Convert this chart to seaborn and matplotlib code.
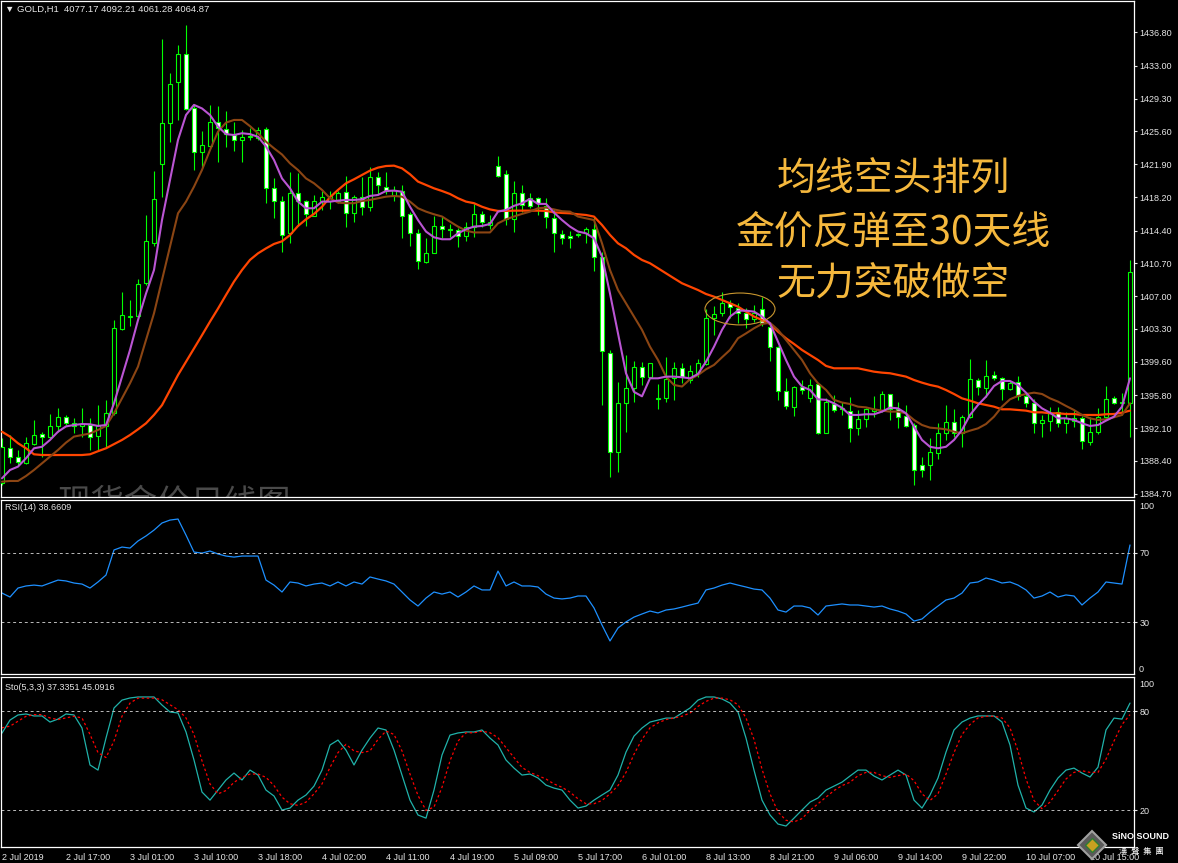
import numpy as np
import matplotlib
matplotlib.use('Agg')
import matplotlib.pyplot as plt
from matplotlib.patches import Ellipse
import seaborn as sns

# ---- candles (GOLD H1) ----
opens = [1385.9, 1389.83, 1388.8, 1388.2, 1390.3, 1391.4, 1391.07, 1392.3, 1393.33, 1392.7,
         1392.35, 1392.5, 1391.2, 1392.3, 1393.8, 1403.3, 1404.7, 1404.8, 1408.5, 1413.05,
         1421.9, 1426.6, 1431.15, 1434.4, 1428.2, 1423.25, 1423.97, 1426.7, 1425.9, 1425.2,
         1424.6, 1425.0, 1424.83, 1425.85, 1419.2, 1417.7, 1414.1, 1418.7, 1417.7, 1416.1,
         1417.75, 1417.75, 1417.75, 1418.8, 1416.4, 1418.24, 1417.1, 1420.5, 1419.37, 1418.3,
         1418.92, 1416.25, 1414.1, 1410.9, 1411.92, 1414.97, 1414.56, 1414.48, 1413.8, 1414.78,
         1416.25, 1415.04, 1421.7, 1420.77, 1415.7, 1418.6, 1418.13, 1418.13, 1417.2, 1415.8,
         1414.0, 1413.8, 1413.88, 1414.1, 1414.56, 1411.47, 1400.63, 1389.45, 1394.9, 1396.6,
         1399.05, 1397.92, 1395.45, 1395.47, 1397.73, 1398.86, 1397.54, 1398.3, 1399.35, 1404.5,
         1405.07, 1406.28, 1405.7, 1405.07, 1404.4, 1405.52, 1403.5, 1401.3, 1396.34, 1394.53,
         1396.72, 1395.47, 1397.05, 1391.6, 1394.83, 1394.35, 1394.08, 1392.16, 1393.1, 1394.08,
         1394.15, 1395.92, 1394.23, 1393.48, 1392.46, 1387.95, 1387.95, 1389.34, 1391.52, 1392.84,
         1391.6, 1393.4, 1397.54, 1396.6, 1398.1, 1397.73, 1396.49, 1397.35, 1395.74, 1394.98,
         1392.65, 1392.95, 1393.97, 1392.72, 1392.95, 1393.21, 1390.58, 1391.71, 1393.33, 1395.47,
         1394.98, 1394.98]
highs = [1391.0, 1391.33, 1389.6, 1391.1, 1393.0, 1391.7, 1393.67, 1394.35, 1393.6, 1393.3,
         1394.35, 1393.2, 1394.7, 1395.3, 1404.3, 1407.5, 1406.6, 1408.9, 1416.2, 1421.1,
         1436.05, 1432.2, 1435.4, 1437.6, 1428.6, 1425.6, 1428.6, 1428.5, 1427.95, 1426.7,
         1425.8, 1425.96, 1426.07, 1426.07, 1420.3, 1418.3, 1421.07, 1420.9, 1417.87, 1418.4,
         1418.9, 1418.9, 1418.9, 1420.6, 1418.43, 1420.43, 1421.56, 1421.07, 1421.07, 1419.45,
         1419.56, 1416.55, 1414.56, 1413.54, 1416.0, 1416.0, 1415.16, 1414.67, 1415.35, 1417.4,
         1416.66, 1416.17, 1422.84, 1421.26, 1420.0, 1419.56, 1418.6, 1418.24, 1418.06, 1416.8,
         1414.48, 1414.4, 1414.1, 1414.86, 1416.0, 1412.03, 1400.93, 1397.35, 1400.37, 1399.73,
         1399.54, 1399.5, 1397.05, 1400.1, 1399.6, 1399.5, 1399.24, 1399.88, 1405.5, 1405.9,
         1407.44, 1406.58, 1406.2, 1405.64, 1406.0, 1406.88, 1403.87, 1401.38, 1397.73, 1396.87,
         1397.54, 1397.6, 1397.17, 1395.47, 1395.85, 1395.0, 1395.66, 1394.15, 1394.34, 1395.74,
         1396.3, 1396.0, 1395.1, 1394.72, 1392.65, 1388.81, 1390.96, 1392.72, 1394.72, 1394.23,
         1393.59, 1399.88, 1397.73, 1399.8, 1398.5, 1397.92, 1397.47, 1397.99, 1396.1, 1395.36,
         1393.59, 1394.53, 1394.45, 1393.97, 1394.15, 1393.48, 1393.4, 1394.34, 1396.86, 1395.74,
         1396.04, 1411.09]
lows = [1385.7, 1388.13, 1387.95, 1388.1, 1390.2, 1388.9, 1390.96, 1391.7, 1392.5, 1391.5,
        1391.15, 1389.6, 1389.6, 1389.9, 1393.6, 1403.2, 1403.6, 1404.5, 1408.3, 1412.7,
        1418.25, 1424.45, 1426.9, 1428.0, 1421.2, 1421.6, 1423.7, 1422.2, 1423.9, 1423.4,
        1422.2, 1424.6, 1424.64, 1417.5, 1415.8, 1412.0, 1413.05, 1414.9, 1414.9, 1416.0,
        1416.74, 1416.9, 1417.57, 1414.86, 1415.4, 1416.2, 1416.66, 1418.55, 1418.55, 1417.7,
        1413.6, 1412.67, 1410.04, 1410.8, 1411.85, 1413.54, 1413.65, 1412.6, 1413.28, 1413.73,
        1414.86, 1414.56, 1420.43, 1415.04, 1414.3, 1416.55, 1416.93, 1416.2, 1414.74, 1412.03,
        1412.9, 1412.4, 1413.73, 1413.05, 1409.8, 1394.7, 1386.55, 1387.2, 1391.7, 1395.1,
        1397.0, 1397.73, 1394.23, 1395.0, 1395.3, 1397.24, 1397.17, 1397.92, 1399.24, 1402.6,
        1404.77, 1404.5, 1403.94, 1403.4, 1404.13, 1403.64, 1399.73, 1395.3, 1394.23, 1393.48,
        1395.93, 1395.1, 1391.45, 1391.52, 1393.97, 1393.6, 1390.58, 1391.33, 1392.2, 1393.4,
        1393.97, 1393.03, 1392.08, 1392.2, 1385.7, 1386.63, 1386.25, 1388.58, 1390.77, 1391.14,
        1390.0, 1393.21, 1395.85, 1395.66, 1397.54, 1395.28, 1396.4, 1395.28, 1394.53, 1391.6,
        1391.07, 1391.82, 1392.27, 1391.52, 1392.27, 1389.71, 1390.2, 1391.44, 1393.03, 1394.83,
        1393.59, 1391.14]
closes = [1390.0, 1388.8, 1388.3, 1390.4, 1391.3, 1391.07, 1392.35, 1393.4, 1392.7, 1392.35,
          1392.6, 1391.15, 1392.46, 1393.8, 1403.4, 1404.9, 1404.8, 1408.4, 1413.2, 1417.95,
          1426.5, 1431.0, 1434.4, 1428.1, 1423.25, 1424.1, 1426.7, 1425.95, 1425.3, 1424.6,
          1424.95, 1425.05, 1425.77, 1419.2, 1417.7, 1413.9, 1418.7, 1417.7, 1416.25, 1417.8,
          1418.24, 1418.3, 1418.6, 1416.4, 1418.24, 1417.04, 1420.5, 1419.5, 1418.92, 1419.0,
          1416.1, 1414.1, 1411.0, 1411.85, 1414.97, 1414.56, 1414.5, 1413.84, 1414.86, 1416.25,
          1415.4, 1415.4, 1420.58, 1415.7, 1418.6, 1417.3, 1417.23, 1417.5, 1415.9, 1414.1,
          1413.54, 1413.54, 1414.03, 1414.56, 1411.47, 1400.82, 1389.45, 1394.9, 1396.6, 1399.05,
          1397.92, 1399.43, 1395.55, 1397.6, 1398.86, 1397.85, 1398.6, 1399.43, 1404.5, 1405.0,
          1406.28, 1405.75, 1405.07, 1404.4, 1405.07, 1403.94, 1401.3, 1396.34, 1394.6, 1396.8,
          1396.4, 1396.98, 1391.6, 1395.0, 1394.16, 1394.25, 1392.08, 1393.1, 1394.23, 1394.23,
          1395.92, 1394.23, 1393.4, 1392.35, 1387.38, 1387.38, 1389.45, 1391.6, 1392.84, 1391.6,
          1393.4, 1397.62, 1396.7, 1397.99, 1397.73, 1396.49, 1397.24, 1395.74, 1394.98, 1392.72,
          1393.03, 1393.86, 1392.72, 1393.21, 1393.2, 1390.69, 1391.71, 1393.33, 1395.36, 1394.98,
          1395.0, 1409.77]

# ---- moving averages as drawn on the chart ----
ma_fast = [1386.44, 1387.38, 1387.76, 1388.7, 1389.83, 1390.0, 1390.77, 1391.7, 1392.3, 1392.46,
           1392.57, 1392.54, 1392.35, 1392.46, 1394.9, 1397.9, 1400.93, 1404.3, 1407.3, 1409.96,
           1415.6, 1420.13, 1424.64, 1427.46, 1428.6, 1428.2, 1427.46, 1426.15, 1425.3, 1425.2,
           1425.4, 1425.3, 1425.0, 1423.9, 1422.38, 1420.3, 1419.18, 1417.68, 1416.93, 1416.93,
           1417.68, 1417.68, 1417.79, 1417.87, 1417.87, 1417.94, 1418.32, 1418.43, 1418.88, 1418.92,
           1418.8, 1417.1, 1415.6, 1414.3, 1413.65, 1413.43, 1413.43, 1414.1, 1414.56, 1414.86,
           1414.93, 1415.16, 1416.55, 1416.74, 1417.2, 1417.5, 1417.98, 1417.42, 1417.42, 1416.44,
           1415.6, 1414.86, 1414.3, 1414.1, 1413.54, 1411.47, 1407.3, 1402.8, 1398.3, 1396.2,
           1395.7, 1397.73, 1397.73, 1397.92, 1397.92, 1397.85, 1397.73, 1398.22, 1399.6, 1401.3,
           1403.2, 1404.7, 1405.37, 1405.37, 1405.26, 1404.7, 1403.94, 1401.87, 1399.8, 1397.92,
           1396.8, 1396.42, 1395.36, 1395.3, 1394.9, 1394.4, 1393.59, 1393.59, 1393.67, 1393.67,
           1393.97, 1394.42, 1394.34, 1393.78, 1392.27, 1390.77, 1390.0, 1389.83, 1390.0, 1390.77,
           1391.9, 1393.59, 1394.72, 1395.66, 1396.86, 1397.43, 1397.43, 1396.98, 1396.11, 1395.1,
           1394.34, 1393.85, 1393.21, 1393.21, 1393.03, 1392.65, 1392.35, 1392.46, 1392.95, 1393.4,
           1394.53, 1397.73]
ma_mid = [1386.06, 1386.14, 1386.14, 1386.7, 1387.38, 1388.13, 1388.88, 1389.64, 1390.47, 1391.15,
          1391.33, 1391.5, 1391.9, 1392.35, 1393.78, 1395.47, 1397.17, 1399.05, 1402.06, 1405.07,
          1408.83, 1412.6, 1416.36, 1417.68, 1419.37, 1421.26, 1423.5, 1425.58, 1426.6, 1426.9,
          1426.9, 1426.2, 1425.4, 1424.45, 1423.7, 1423.0, 1422.0, 1421.25, 1420.3, 1419.75,
          1419.0, 1418.06, 1417.57, 1417.5, 1417.5, 1417.75, 1417.87, 1418.06, 1418.24, 1418.32,
          1418.24, 1417.68, 1416.93, 1416.55, 1416.25, 1416.0, 1415.42, 1414.86, 1414.4, 1414.2,
          1414.2, 1414.2, 1415.23, 1415.68, 1416.0, 1416.29, 1416.55, 1416.93, 1417.0, 1416.8,
          1416.6, 1416.55, 1415.99, 1415.8, 1415.6, 1412.97, 1409.96, 1407.7, 1406.2, 1404.7,
          1403.2, 1401.3, 1399.8, 1397.92, 1396.98, 1396.8, 1397.62, 1398.1, 1398.75, 1399.24,
          1400.1, 1400.93, 1402.25, 1402.8, 1403.38, 1403.87, 1404.0, 1403.2, 1402.06, 1400.93,
          1399.8, 1398.3, 1397.17, 1396.42, 1395.3, 1395.0, 1394.83, 1394.53, 1394.45, 1394.23,
          1394.08, 1393.97, 1393.97, 1393.78, 1393.03, 1392.46, 1392.16, 1392.08, 1391.97, 1391.71,
          1391.52, 1391.82, 1392.08, 1392.57, 1393.4, 1394.53, 1395.36, 1395.74, 1395.96, 1396.11,
          1395.96, 1395.47, 1395.1, 1394.61, 1394.15, 1393.59, 1393.21, 1393.03, 1393.1, 1393.33,
          1393.59, 1394.91]
ma_slow = [1391.7, 1391.15, 1390.4, 1389.83, 1389.15, 1389.07, 1389.07, 1389.07, 1389.07, 1389.07,
           1389.07, 1389.15, 1389.5, 1389.83, 1390.3, 1390.77, 1391.33, 1391.97, 1392.65, 1393.6,
           1394.7, 1396.4, 1398.1, 1399.6, 1401.1, 1402.6, 1404.13, 1405.6, 1407.14, 1408.65,
           1409.96, 1411.1, 1411.84, 1412.4, 1412.9, 1413.2, 1413.9, 1414.93, 1415.68, 1416.29,
           1417.1, 1418.17, 1419.0, 1419.75, 1420.2, 1420.69, 1421.18, 1421.52, 1421.7, 1421.74,
           1421.44, 1420.77, 1419.94, 1419.56, 1419.18, 1418.88, 1418.54, 1418.06, 1417.68, 1417.5,
           1417.1, 1416.8, 1416.63, 1416.63, 1416.66, 1416.66, 1416.66, 1416.66, 1416.63, 1416.47,
           1416.4, 1416.36, 1416.25, 1416.17, 1415.99, 1415.04, 1413.92, 1412.97, 1412.41, 1411.66,
           1411.09, 1410.72, 1410.15, 1409.59, 1409.02, 1408.46, 1408.08, 1407.7, 1407.25, 1406.95,
           1406.58, 1406.2, 1405.82, 1405.26, 1404.7, 1404.32, 1403.87, 1403.0, 1402.25, 1401.61,
           1400.93, 1400.37, 1399.8, 1399.13, 1398.86, 1398.86, 1398.86, 1398.86, 1398.67, 1398.48,
           1398.37, 1398.3, 1398.11, 1397.92, 1397.54, 1397.24, 1396.98, 1396.79, 1396.41, 1395.96,
           1395.47, 1395.21, 1394.91, 1394.72, 1394.53, 1394.23, 1394.23, 1394.15, 1394.08, 1393.89,
           1393.89, 1393.78, 1393.78, 1393.7, 1393.7, 1393.59, 1393.59, 1393.59, 1393.67, 1393.7,
           1393.85, 1394.08]

# ---- RSI(14) ----
rsi = [46.8, 44.5, 49.7, 50.9, 51.4, 50.9, 52.6, 54.3, 53.8, 52.6,
       52.0, 49.7, 53.2, 57.2, 71.7, 73.4, 72.8, 76.9, 79.8, 83.2,
       87.3, 89.0, 89.6, 80.3, 70.5, 69.9, 71.1, 69.4, 68.2, 67.6,
       68.2, 68.2, 68.2, 54.3, 51.4, 47.4, 53.2, 52.6, 50.9, 52.0,
       52.6, 50.9, 53.2, 50.9, 53.2, 52.0, 56.1, 54.9, 53.8, 52.0,
       47.4, 42.8, 39.3, 43.9, 47.4, 46.2, 47.4, 44.5, 47.4, 50.9,
       48.6, 48.6, 59.5, 50.9, 53.2, 50.9, 50.9, 50.3, 46.2, 43.9,
       43.4, 43.9, 45.1, 45.1, 38.2, 28.3, 19.1, 26.6, 30.1, 32.9,
       34.7, 36.4, 35.3, 37.0, 37.6, 38.7, 39.9, 41.0, 48.6, 49.7,
       51.4, 52.6, 51.4, 50.3, 49.1, 48.6, 43.9, 37.0, 35.8, 39.3,
       39.3, 38.2, 34.1, 39.3, 39.9, 40.5, 39.9, 39.9, 39.3, 38.7,
       39.3, 37.6, 36.4, 34.7, 30.6, 31.8, 35.8, 39.3, 42.8, 43.9,
       46.8, 52.6, 53.2, 55.5, 54.3, 52.6, 53.2, 51.4, 48.6, 43.9,
       45.1, 47.4, 44.5, 45.7, 45.1, 39.9, 43.9, 47.4, 53.2, 52.6,
       52.0, 74.6]

# ---- Stochastic(5,3,3): main and signal ----
sto_k = [66.8, 74.7, 77.8, 78.4, 77.2, 77.2, 73.5, 75.3, 78.4, 77.8,
         69.9, 47.5, 44.4, 63.8, 82.0, 86.8, 88.1, 88.7, 88.7, 88.7,
         83.8, 79.6, 79.0, 67.5, 50.5, 31.1, 26.2, 32.3, 38.4, 42.6,
         38.4, 44.4, 41.4, 32.3, 28.7, 20.2, 21.4, 26.2, 29.3, 34.7,
         44.4, 59.6, 62.6, 56.5, 47.5, 56.5, 63.8, 69.9, 68.7, 56.5,
         41.4, 26.2, 17.2, 15.3, 32.3, 53.5, 65.6, 66.9, 67.5, 67.5,
         68.7, 63.8, 59.6, 50.5, 45.6, 41.4, 42.0, 39.6, 35.3, 33.5,
         32.3, 26.2, 21.4, 22.6, 26.2, 29.3, 32.3, 41.4, 55.3, 65.0,
         69.9, 73.5, 74.7, 75.9, 75.9, 79.0, 82.0, 86.8, 88.7, 88.7,
         87.5, 85.0, 79.6, 63.8, 44.4, 26.2, 17.2, 11.7, 10.5, 15.3,
         20.2, 25.0, 27.5, 32.3, 34.7, 37.1, 40.8, 44.4, 44.4, 40.8,
         38.4, 41.4, 44.4, 41.4, 26.2, 21.4, 29.3, 39.6, 55.3, 68.7,
         73.5, 75.9, 77.2, 77.2, 77.2, 73.5, 59.6, 35.3, 21.4, 19.0,
         23.2, 32.3, 39.6, 44.4, 45.6, 42.6, 40.2, 46.2, 68.7, 75.9,
         75.3, 85.0]
sto_d = [70, 71, 74, 77, 78, 78, 76, 75, 76, 77,
         76, 66, 55, 52, 62, 77, 85, 88, 88, 88,
         87, 84, 81, 76, 66, 50, 36, 30, 32, 37,
         40, 42, 42, 40, 35, 28, 24, 23, 25, 30,
         36, 46, 55, 60, 56, 55, 56, 63, 68, 66,
         56, 42, 29, 20, 22, 34, 50, 62, 67, 67,
         68, 67, 64, 58, 52, 46, 43, 41, 39, 36,
         34, 31, 27, 24, 24, 26, 30, 35, 43, 54,
         63, 70, 73, 75, 76, 77, 79, 83, 86, 88,
         88, 87, 84, 76, 63, 45, 30, 19, 14, 13,
         15, 20, 24, 28, 32, 35, 37, 41, 43, 43,
         41, 40, 41, 42, 38, 30, 26, 30, 42, 55,
         66, 72, 76, 77, 77, 76, 70, 56, 39, 26,
         21, 25, 32, 39, 43, 44, 43, 43, 51, 62,
         72, 78]

time_labels = ['2 Jul 2019', '2 Jul 17:00', '3 Jul 01:00', '3 Jul 10:00', '3 Jul 18:00',
               '4 Jul 02:00', '4 Jul 11:00', '4 Jul 19:00', '5 Jul 09:00', '5 Jul 17:00',
               '6 Jul 01:00', '8 Jul 13:00', '8 Jul 21:00', '9 Jul 06:00', '9 Jul 14:00',
               '9 Jul 22:00', '10 Jul 07:00', '10 Jul 15:00']
time_label_pos = [0, 8, 16, 24, 32, 40, 48, 56, 64, 72, 80, 88, 96, 104, 112, 120, 128, 136]
price_ticks = ['1436.80', '1433.00', '1429.30', '1425.60', '1421.90', '1418.20', '1414.40',
               '1410.70', '1407.00', '1403.30', '1399.60', '1395.80', '1392.10', '1388.40', '1384.70']

note_lines = ['均线空头排列', '金价反弹至30天线', '无力突破做空']

W, H = 1178, 863
GREEN = '#00FF00'
TXT = '#E6E6E6'


def px_box(x0, y0, x1, y1):
    return [x0 / W, 1 - y1 / H, (x1 - x0) / W, (y1 - y0) / H]


sns.set_theme(style='dark', rc={'axes.facecolor': 'black', 'figure.facecolor': 'black'})
plt.rcParams['font.family'] = ['Liberation Sans', 'Noto Sans CJK SC', 'DejaVu Sans']

fig = plt.figure(figsize=(W / 100, H / 100), dpi=100, facecolor='black')
ax_main = fig.add_axes(px_box(1, 1, 1134, 497))
ax_rsi = fig.add_axes(px_box(1, 500, 1134, 674), sharex=ax_main)
ax_sto = fig.add_axes(px_box(1, 677, 1134, 847), sharex=ax_main)

for ax in [ax_main, ax_rsi, ax_sto]:
    ax.set_facecolor('black')
    ax.grid(False)
    for sp in ax.spines.values():
        sp.set_color('white')
        sp.set_linewidth(0.9)
    ax.yaxis.tick_right()
    ax.tick_params(axis='y', colors=TXT, labelsize=6.5, length=2.5, width=0.8, pad=1.5, direction='out')

idx = np.arange(len(closes))
o = np.array(opens)
c = np.array(closes)

# candles
ax_main.vlines(idx, lows, highs, color=GREEN, linewidth=0.8, zorder=2)
fills = ['white' if cc < oo else 'black' for oo, cc in zip(o, c)]
ax_main.bar(idx, np.abs(c - o), bottom=np.minimum(o, c), width=0.55, color=fills,
            edgecolor=GREEN, linewidth=0.8, zorder=3)

# moving averages
sns.lineplot(x=idx, y=ma_slow, ax=ax_main, color='#FF4500', linewidth=1.6, zorder=4)
sns.lineplot(x=idx, y=ma_mid, ax=ax_main, color='#8B4513', linewidth=1.5, zorder=5)
sns.lineplot(x=idx, y=ma_fast, ax=ax_main, color='#BA55D3', linewidth=1.5, zorder=6)

ax_main.set_xlim(-0.125, 141.5)
ax_main.set_ylim(1384.33, 1440.33)
ax_main.set_yticks([float(t) for t in price_ticks])
ax_main.set_yticklabels(price_ticks)
ax_main.set_ylabel('')
ax_main.tick_params(axis='x', bottom=False, labelbottom=False)

ax_main.add_patch(Ellipse((92.25, 1405.56), 8.75, 3.6, fill=False, edgecolor='#C8962F',
                          linewidth=0.8, zorder=7))
# faded watermark, cut off by the panel edge as in the screenshot
ax_main.text(7.0, 1385.6, '现货金价日线图', fontsize=24, color='#4A4A4A', ha='left', va='top',
             clip_on=True, zorder=1, family=['Noto Sans CJK SC'])

for k, line in enumerate(note_lines):
    fig.text(893 / W, 1 - (180 + 52.5 * k) / H, line, fontsize=28, color='#F5B83D',
             ha='center', va='center', family=['Noto Sans CJK SC'])

fig.text(5 / W, 1 - 9 / H, '▼ GOLD,H1  4077.17 4092.21 4061.28 4064.87', color=TXT,
         fontsize=6.8, va='center', family=['Liberation Sans', 'DejaVu Sans'])

# RSI panel
sns.lineplot(x=idx, y=rsi, ax=ax_rsi, color='#1E90FF', linewidth=0.9)
for lvl in [70, 30]:
    ax_rsi.axhline(lvl, color='#BBBBBB', linewidth=0.7, linestyle=(0, (3, 3)))
ax_rsi.set_ylim(0, 100.6)
ax_rsi.set_yticks([70, 30])
ax_rsi.set_yticklabels(['70', '30'])
ax_rsi.set_ylabel('')
ax_rsi.tick_params(axis='x', bottom=False, labelbottom=False)
fig.text(5 / W, 1 - 508 / H, 'RSI(14) 38.6609', color=TXT, fontsize=6.5, va='center')
fig.text(1139 / W, 1 - 506 / H, '100', color=TXT, fontsize=6.5, va='center')
fig.text(1139 / W, 1 - 669 / H, '0', color=TXT, fontsize=6.5, va='center')

# Stochastic panel
sns.lineplot(x=idx, y=sto_k, ax=ax_sto, color='#20B2AA', linewidth=0.9)
sns.lineplot(x=idx, y=sto_d, ax=ax_sto, color='#FF0000', linewidth=0.9, linestyle=(0, (2, 2)))
for lvl in [80, 20]:
    ax_sto.axhline(lvl, color='#BBBBBB', linewidth=0.7, linestyle=(0, (3, 3)))
ax_sto.set_ylim(-2.2, 100.8)
ax_sto.set_yticks([80, 20])
ax_sto.set_yticklabels(['80', '20'])
ax_sto.set_ylabel('')
fig.text(5 / W, 1 - 687 / H, 'Sto(5,3,3) 37.3351 45.0916', color=TXT, fontsize=6.5, va='center')
fig.text(1139 / W, 1 - 684 / H, '100', color=TXT, fontsize=6.5, va='center')

ax_sto.set_xticks(time_label_pos)
ax_sto.set_xticklabels(time_labels, ha='left')
ax_sto.tick_params(axis='x', colors=TXT, labelsize=6.5, length=3, width=0.8, pad=1.5, direction='out')
ax_sto.set_xlim(-0.125, 141.5)
ax_sto.set_xlabel('')

# SINO SOUND logo
fig.lines.append(plt.Line2D([1092 / W], [1 - 845 / H], transform=fig.transFigure, marker='D',
                            markersize=14, markerfacecolor='#5A5A5A', markeredgecolor='#A0A0A0',
                            markeredgewidth=1.5, linestyle=''))
fig.lines.append(plt.Line2D([1092 / W], [1 - 845 / H], transform=fig.transFigure, marker='D',
                            markersize=7, markerfacecolor='#C8A020', markeredgecolor='#2E7D32',
                            markeredgewidth=1.0, linestyle=''))
fig.text(1141 / W, 1 - 836 / H, 'SiNO SOUND', color='white', fontsize=6.5, fontweight='bold',
         ha='center', va='center')
fig.text(1141 / W, 1 - 851 / H, '漢  聲  集  團', color='white', fontsize=6, ha='center',
         va='center', family=['Noto Sans CJK TC'])

plt.savefig('out.png', dpi=100, facecolor='black')
